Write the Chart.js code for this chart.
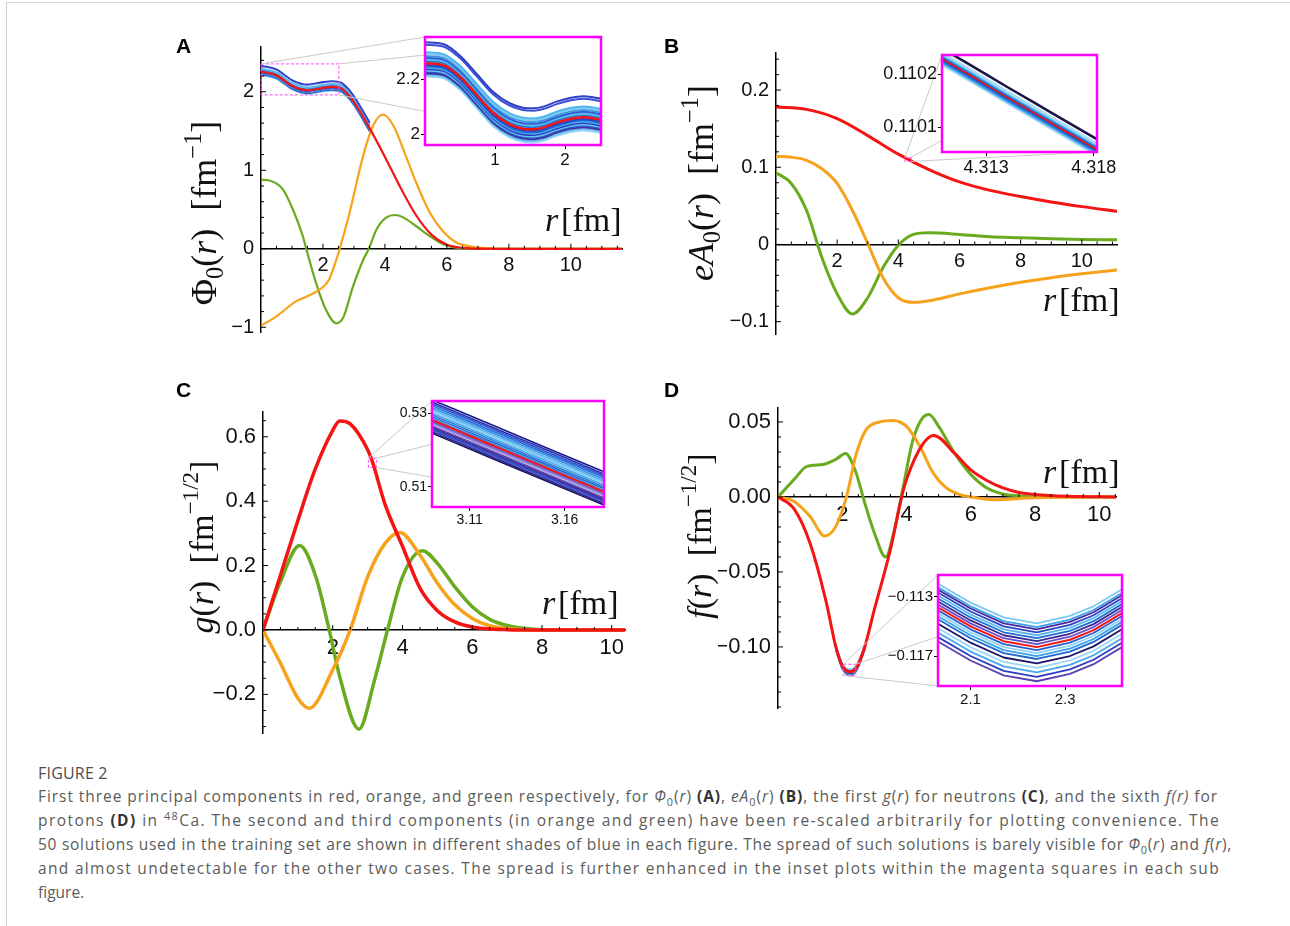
<!DOCTYPE html>
<html lang="en">
<head>
<meta charset="utf-8">
<title>Figure 2</title>
<script src="https://cdn.jsdelivr.net/npm/chart.js@4.4.1/dist/chart.umd.min.js"></script>
<style>
  body { margin: 0; background: #fff; }
  #page { position: relative; width: 1290px; height: 926px; overflow: hidden; font-family: "Liberation Sans", Arial, sans-serif; }
  .frame { position: absolute; left: 6px; top: 2px; width: 1300px; height: 940px; border-left: 1px solid #cfcfcf; border-top: 1px solid #d8d8d8; }
  canvas { position: absolute; }
  canvas.main { z-index: 1; }
  canvas.links { z-index: 2; }
  canvas.inset { z-index: 3; }
  .tag { position: absolute; z-index: 4; font-weight: bold; font-size: 21px; line-height: 1; }
  .math { position: absolute; z-index: 4; font-family: "Liberation Serif", "DejaVu Serif", serif; white-space: nowrap; line-height: 1; color: #111; }
  .ytitle { font-size: 36px; transform: translate(-50%, -50%) rotate(-90deg); }
  .ytitle.small { font-size: 34px; }
  .xtitle { font-size: 34px; }
  .math .sb { font-size: 0.68em; vertical-align: -0.28em; }
  .math .sp { font-size: 0.68em; vertical-align: 0.62em; }
  .cap-head { position: absolute; left: 38px; top: 762px; font-family: "Open Sans", "Noto Sans", sans-serif; font-size: 16px; letter-spacing: 0.2px; color: #4d4d4d; }
  .caption { position: absolute; left: 38px; top: 784px; width: 1190px; font-family: "Open Sans", "Noto Sans", sans-serif; font-size: 15.5px; line-height: 24px; color: #5b5b5b; }
  .caption div { white-space: nowrap; }
  .caption b { color: #333; }
  .caption sub, .caption sup { font-size: 0.7em; line-height: 0; }
</style>
</head>
<body>
<div id="page">
  <div class="frame"></div>

  <div class="tag" style="left:176px; top:35px">A</div>
  <div class="tag" style="left:664px; top:35px">B</div>
  <div class="tag" style="left:176px; top:379px">C</div>
  <div class="tag" style="left:664px; top:379px">D</div>

  <div class="math ytitle" style="left:204px; top:213px">Φ<span class="sb">0</span>(<i>r</i>)&nbsp;&nbsp;[fm<span class="sp">−1</span>]</div>
  <div class="math ytitle" style="left:701px; top:183px"><i>eA</i><span class="sb">0</span>(<i>r</i>)&nbsp;&nbsp;[fm<span class="sp">−1</span>]</div>
  <div class="math ytitle small" style="left:199px; top:547px"><i>g</i>(<i>r</i>)&nbsp;&nbsp;[fm<span class="sp">−1/2</span>]</div>
  <div class="math ytitle small" style="left:697px; top:536px"><i>f</i>(<i>r</i>)&nbsp;&nbsp;[fm<span class="sp">−1/2</span>]</div>

  <div class="math xtitle" style="left:545px; top:203px"><i>r</i>&#8202;[fm]</div>
  <div class="math xtitle" style="left:1043px; top:283px"><i>r</i>&#8202;[fm]</div>
  <div class="math xtitle" style="left:542px; top:586px"><i>r</i>&#8202;[fm]</div>
  <div class="math xtitle" style="left:1043px; top:455px"><i>r</i>&#8202;[fm]</div>

  <div class="cap-head">FIGURE 2</div>
  <div class="caption" id="caption">
    <div>First three principal components in red, orange, and green respectively, for <i>Φ</i><sub>0</sub>(<i>r</i>) <b>(A)</b>, <i>eA</i><sub>0</sub>(<i>r</i>) <b>(B)</b>, the first <i>g</i>(<i>r</i>) for neutrons <b>(C)</b>, and the sixth <i>f(r)</i> for</div>
    <div>protons <b>(D)</b> in <sup>48</sup>Ca. The second and third components (in orange and green) have been re-scaled arbitrarily for plotting convenience. The</div>
    <div>50 solutions used in the training set are shown in different shades of blue in each figure. The spread of such solutions is barely visible for <i>Φ</i><sub>0</sub>(<i>r</i>) and <i>f</i>(<i>r</i>),</div>
    <div>and almost undetectable for the other two cases. The spread is further enhanced in the inset plots within the magenta squares in each sub</div>
    <div>figure.</div>
  </div>
</div>

<script>
// ==============================
// Data: shared ticks
// ==============================
const xTicks = [2, 4, 6, 8, 10];

// ==============================
// Data: A  Φ0(r)
// ==============================
const rPhiRed = [0, 0.5, 1.0, 1.5, 2.0, 2.3, 2.6, 2.8, 3.0, 3.5, 4.0, 4.5, 5.0, 5.5, 6.0, 6.5, 7.0, 8, 11.65];
const phiRed = [2.258, 2.21, 2.075, 2.018, 2.05, 2.061, 2.04, 1.97, 1.87, 1.54, 1.17, 0.78, 0.43, 0.18, 0.05, 0.012, 0.002, 0, 0];
const rPhiOrange = [0, 0.5, 1.13, 1.46, 1.89, 2.2, 2.43, 2.54, 2.86, 3.3, 3.62, 3.94, 4.27, 4.59, 5.0, 5.45, 5.9, 6.3, 6.75, 7.3, 8, 11.65];
const phiOrange = [-0.98, -0.86, -0.67, -0.61, -0.52, -0.39, -0.14, 0, 0.46, 1.19, 1.57, 1.71, 1.57, 1.27, 0.85, 0.46, 0.21, 0.08, 0.03, 0.005, 0, 0];
const rPhiGreen = [0, 0.27, 0.7, 1.03, 1.35, 1.46, 1.78, 2.1, 2.43, 2.65, 2.97, 3.3, 3.48, 3.73, 4.05, 4.32, 4.59, 5.0, 5.45, 5.9, 6.3, 7, 8, 11.65];
const phiGreen = [0.88, 0.87, 0.76, 0.5, 0.16, 0, -0.44, -0.78, -0.95, -0.88, -0.48, -0.14, 0, 0.25, 0.40, 0.43, 0.40, 0.29, 0.16, 0.055, 0.015, 0.002, 0, 0];
const phiTicks = [-1, 0, 1, 2];
const phiLabels = ["−1", "0", "1", "2"];

// inset A
const rPhiZoom = [0, 0.26, 0.5, 0.74, 0.98, 1.21, 1.40, 1.55, 1.69, 1.88, 2.07, 2.26, 2.40, 2.52];
const phiZoomRed = [2.2585, 2.252, 2.2095, 2.1426, 2.0757, 2.0354, 2.0194, 2.0171, 2.0232, 2.0414, 2.0548, 2.061, 2.0574, 2.0512];
const phiSpread = [0.077, 0.068, 0.040, 0.033, 0.027, 0.020, 0.014, 0.008, 0.003, -0.006, -0.011, -0.016, -0.021, -0.026, -0.031, -0.036, -0.042, -0.048];
const phiZoomX = [1, 2];
const phiZoomXLabels = ["1", "2"];
const phiZoomY = [2, 2.2];
const phiZoomYLabels = ["2", "2.2"];

// ==============================
// Data: B  eA0(r)
// ==============================
const rA0Red = [0, 1, 2, 3, 4, 5, 6, 7, 8, 9, 10, 11.15];
const a0Red = [0.178, 0.175, 0.163, 0.141, 0.117, 0.097, 0.081, 0.070, 0.062, 0.055, 0.049, 0.043];
const rA0Orange = [0, 0.5, 1, 1.5, 2, 2.5, 3, 3.5, 4, 4.5, 5, 6, 7, 8, 9, 10, 11.15];
const a0Orange = [0.114, 0.113, 0.109, 0.098, 0.079, 0.044, 0.001, -0.043, -0.069, -0.075, -0.073, -0.064, -0.056, -0.049, -0.043, -0.038, -0.033];
const rA0Green = [0, 0.5, 1, 1.5, 2, 2.5, 3, 3.5, 4, 4.5, 5, 6, 7, 8, 9, 10, 11.15];
const a0Green = [0.093, 0.079, 0.044, -0.017, -0.064, -0.090, -0.069, -0.030, -0.001, 0.013, 0.015, 0.013, 0.010, 0.0087, 0.0074, 0.0065, 0.006];
const a0Ticks = [-0.1, 0, 0.1, 0.2];
const a0Labels = ["−0.1", "0", "0.1", "0.2"];

// inset B
const rA0Zoom = [4.310, 4.312, 4.314, 4.316, 4.318, 4.320];
const a0ZoomRed = [0.110251, 0.110204, 0.110156, 0.110109, 0.110062, 0.110015];
const a0Spread = [0.0000195, 0.000011, 0.0000095, 0.000008, 0.0000065, 0.000005, 0.0000035, 0.000002, 0.0000008, -0.0000008, -0.000002, -0.0000035, -0.000005, -0.0000065, -0.000008, -0.0000095, -0.000011];
const a0ZoomX = [4.313, 4.318];
const a0ZoomXLabels = ["4.313", "4.318"];
const a0ZoomY = [0.1101, 0.1102];
const a0ZoomYLabels = ["0.1101", "0.1102"];

// ==============================
// Data: C  g(r)
// ==============================
const rGRed = [0, 0.5, 1, 1.5, 2, 2.2, 2.5, 3, 3.13, 3.5, 4, 4.5, 5, 5.5, 6, 6.5, 7, 8, 10.38];
const gRed = [0, 0.17, 0.34, 0.50, 0.62, 0.649, 0.64, 0.56, 0.525, 0.39, 0.26, 0.13, 0.06, 0.025, 0.009, 0.003, 0.001, 0, 0];
const rGOrange = [0, 0.5, 1, 1.32, 2, 2.5, 3, 3.5, 3.92, 4.5, 5, 5.5, 6, 6.5, 7, 7.5, 8, 10.38];
const gOrange = [0, -0.103, -0.212, -0.243, -0.124, 0, 0.165, 0.269, 0.303, 0.233, 0.145, 0.078, 0.036, 0.013, 0.004, 0.001, 0, 0];
const rGGreen = [0, 0.5, 1.05, 1.5, 1.9, 2.2, 2.75, 3.2, 3.57, 4, 4.57, 5, 5.5, 6, 6.5, 7, 7.5, 8, 10.38];
const gGreen = [0, 0.15, 0.262, 0.17, 0, -0.145, -0.308, -0.155, 0, 0.165, 0.246, 0.207, 0.134, 0.072, 0.033, 0.014, 0.005, 0.001, 0];
const gTicks = [-0.2, 0, 0.2, 0.4, 0.6];
const gLabels = ["−0.2", "0.0", "0.2", "0.4", "0.6"];

// inset C
const rGZoom = [3.09, 3.12, 3.15, 3.18];
const gZoomRed = [0.52825, 0.52175, 0.51525, 0.50875];
const gSpread = [0.0055, 0.0049, 0.0044, 0.0039, 0.0034, 0.0029, 0.0024, 0.0019, 0.0014, 0.0009, 0.0004, -0.0004, -0.0008, -0.0012, -0.0016, -0.0020, -0.0024, -0.0028, -0.0032, -0.0036];
const gZoomX = [3.11, 3.16];
const gZoomXLabels = ["3.11", "3.16"];
const gZoomY = [0.51, 0.53];
const gZoomYLabels = ["0.51", "0.53"];

// ==============================
// Data: D  f(r)
// ==============================
const rFRed = [0, 0.5, 1, 1.5, 1.8, 2.0, 2.24, 2.45, 2.7, 3, 3.5, 3.85, 4, 4.5, 4.85, 5.5, 6, 6.5, 7, 7.5, 8, 9, 10.52];
const fRed = [0, -0.008, -0.031, -0.070, -0.100, -0.1125, -0.1165, -0.1135, -0.100, -0.075, -0.035, 0, 0.0116, 0.035, 0.041, 0.029, 0.018, 0.011, 0.006, 0.003, 0.0016, 0.0004, 0];
const rFOrange = [0, 0.5, 1, 1.45, 1.8, 2.13, 2.44, 2.75, 3.17, 3.58, 4.0, 4.41, 4.83, 5.24, 5.66, 6.0, 6.7, 8, 10.52];
const fOrange = [0, -0.003, -0.013, -0.026, -0.0196, 0, 0.029, 0.045, 0.050, 0.051, 0.047, 0.034, 0.016, 0.006, 0.0016, 0, -0.0018, -0.0005, 0];
const rFGreen = [0, 0.5, 0.9, 1.4, 1.8, 2.1, 2.4, 2.7, 3.0, 3.35, 3.6, 3.9, 4.2, 4.5, 4.7, 5.0, 5.5, 6, 6.5, 7, 7.5, 8, 10.52];
const fGreen = [0, 0.0116, 0.0204, 0.0216, 0.025, 0.029, 0.018, -0.004, -0.024, -0.040, -0.024, 0.007, 0.038, 0.0527, 0.055, 0.047, 0.029, 0.015, 0.006, 0.002, 0.0007, 0, 0];
const fTicks = [-0.1, -0.05, 0, 0.05];
const fLabels = ["−0.10", "−0.05", "0.00", "0.05"];

// inset D
const rFZoom = [2.03, 2.10, 2.17, 2.24, 2.31, 2.36, 2.42];
const fZoomRed = [-0.1137, -0.1150, -0.1160, -0.1164, -0.1159, -0.11525, -0.1141];
const fSpread = [0.0016, 0.00135, 0.0012, 0.0010, 0.0008, 0.0006, 0.0004, 0.0002, -0.0002, -0.0004, -0.0006, -0.0008, -0.0011, -0.0014, -0.0017, -0.0020, -0.0023];
const fZoomX = [2.1, 2.3];
const fZoomXLabels = ["2.1", "2.3"];
const fZoomY = [-0.117, -0.113];
const fZoomYLabels = ["−0.117", "−0.113"];

// ==============================
// Styles
// ==============================
const RED = "#f41414";
const ORANGE = "#f7a21c";
const GREEN = "#6aaa1f";
const MAGENTA = "#ff00ff";
const SANS = "'Liberation Sans', Arial, sans-serif";

const bluesA = ["#2f3fc8", "#3b4fd6", "#4cb4ee", "#7ccaf2", "#3d8fe0", "#2a5fd0", "#5ab8ee", "#1f7ad8", "#8fd3f5",
  "#2a45c8", "#1d6fd8", "#45a8ea", "#2c3bbf", "#6cc0f0", "#1f5cc8", "#4a2a9a", "#5fbdf0", "#9ad8f6"];
const bluesB = ["#1c1446", "#a9dcf6", "#7cc6f2", "#4aa8ea", "#2f8ae0", "#1f6fd6", "#1d5cc8", "#2450c4", "#1a4fbf",
  "#1d5cc8", "#1f6cd4", "#2a80dc", "#3a93e4", "#55aeec", "#7cc6f2", "#9ed6f5", "#bde4f8"];
const bluesC = ["#1a1a8c", "#2432b0", "#2f4fd0", "#1e6fd8", "#3a93e6", "#5cb3ee", "#7ecbf3", "#4aa6ea", "#2b7fdc", "#1e66cc",
  "#3f7fe0", "#6a5cc8", "#8a7ad8", "#b0a8e8", "#5a3fae", "#3b2a90", "#2a3fc0", "#4456cc", "#2a1f7a", "#1b1464"];
const bluesD = ["#7ccaf2", "#3aa0ea", "#4a2a9a", "#2a45c8", "#5ab8ee", "#1f6fd8", "#3b2a90", "#6a4cc8", "#2a5fd0",
  "#8fd3f5", "#3aa0ea", "#1e66cc", "#1b1464", "#9ad8f6", "#45a8ea", "#2c3bbf", "#5a3fae"];

// ==============================
// Helpers
// ==============================
const page = document.getElementById("page");

function addCanvas(cls, left, top, width, height) {
  const cv = document.createElement("canvas");
  cv.className = cls;
  cv.width = width;
  cv.height = height;
  cv.style.left = left + "px";
  cv.style.top = top + "px";
  cv.style.width = width + "px";
  cv.style.height = height + "px";
  page.appendChild(cv);
  return cv;
}

const curve = (rs, vs, color, width) => ({
  data: rs.map((r, i) => ({ x: r, y: vs[i] })),
  borderColor: color,
  borderWidth: width
});

// the training solutions, drawn as their spread around the red curve
function spreadSets(rs, vs, offsets, colors, width, rMin, rMax) {
  return offsets.map((d, k) => ({
    data: rs.map((r, i) => ({ x: r, y: vs[i] + d })).filter(p => p.x >= rMin && p.x <= rMax),
    borderColor: colors[k % colors.length],
    borderWidth: width
  }));
}

const fixedTicks = vals => s => { s.ticks = vals.map(v => ({ value: v })); };

function zoomRect(chart) {
  const o = chart.options.plugins.zoomBox;
  const { x, y } = chart.scales;
  const l = x.getPixelForValue(o.x[0]), r = x.getPixelForValue(o.x[1]);
  const t = y.getPixelForValue(o.y[1]), b = y.getPixelForValue(o.y[0]);
  const cx = (l + r) / 2, cy = (t + b) / 2;
  const w = Math.max(r - l, o.minW), h = Math.max(b - t, o.minH);
  return { l: cx - w / 2, r: cx + w / 2, t: cy - h / 2, b: cy + h / 2 };
}

// ==============================
// Plugins
// ==============================
const axisTicks = {
  id: "axisTicks",
  afterDraw(chart, args, opts) {
    const { ctx, scales: { x, y } } = chart;
    const y0 = y.getPixelForValue(0);
    const x0 = chart.chartArea.left;
    ctx.save();
    ctx.strokeStyle = "#000";
    ctx.lineWidth = 1;
    ctx.beginPath();
    const nx = Math.floor(x.max / opts.xStep);
    for (let i = 1; i <= nx; i++) {
      const v = i * opts.xStep;
      const major = xTicks.some(m => Math.abs(m - v) < 1e-9);
      const px = x.getPixelForValue(v);
      ctx.moveTo(px, y0);
      ctx.lineTo(px, y0 - (major ? 5 : 3));
    }
    const i0 = Math.ceil(y.min / opts.yStep), i1 = Math.floor(y.max / opts.yStep);
    for (let i = i0; i <= i1; i++) {
      const v = i * opts.yStep;
      const major = opts.yMajor.some(m => Math.abs(m - v) < 1e-9);
      const py = y.getPixelForValue(v);
      ctx.moveTo(x0, py);
      ctx.lineTo(x0 + (major ? 5 : 3), py);
    }
    ctx.stroke();
    ctx.restore();
  }
};

const zoomBox = {
  id: "zoomBox",
  afterDatasetsDraw(chart) {
    const r = zoomRect(chart);
    const ctx = chart.ctx;
    ctx.save();
    ctx.strokeStyle = "#ff44ff";
    ctx.lineWidth = 1;
    ctx.setLineDash([3, 2]);
    ctx.strokeRect(r.l, r.t, r.r - r.l, r.b - r.t);
    ctx.restore();
  }
};

const insetFrame = {
  id: "insetFrame",
  beforeDraw(chart) {
    const { ctx, chartArea: a } = chart;
    ctx.save();
    ctx.fillStyle = "#fff";
    ctx.fillRect(a.left, a.top, a.right - a.left, a.bottom - a.top);
    ctx.restore();
  },
  afterDraw(chart) {
    const { ctx, chartArea: a } = chart;
    ctx.save();
    ctx.strokeStyle = MAGENTA;
    ctx.lineWidth = 2.5;
    ctx.strokeRect(a.left, a.top, a.right - a.left, a.bottom - a.top);
    ctx.restore();
  }
};

const BASE = {
  animation: false,
  responsive: false,
  events: [],
  elements: {
    point: { radius: 0 },
    line: { cubicInterpolationMode: "monotone", borderCapStyle: "round", borderJoinStyle: "round", fill: false }
  }
};

// ==============================
// Main panels
// ==============================
function mainChart(p) {
  const [L, T, R, B] = p.area;
  const yw = 60, pad = 24;
  const cv = addCanvas("main", L - yw, T - pad, yw + R - L + pad, pad + B - T + pad);
  const font = { family: SANS, size: p.font };

  return new Chart(cv, {
    type: "line",
    data: {
      datasets: [
        curve(p.red[0], p.red[1], RED, p.width),
        curve(p.orange[0], p.orange[1], ORANGE, p.width),
        curve(p.green[0], p.green[1], GREEN, p.width),
        ...(p.blues || [])
      ]
    },
    options: {
      ...BASE,
      layout: { padding: { left: 0, top: pad, right: pad, bottom: pad } },
      scales: {
        x: {
          type: "linear",
          position: { y: 0 },
          min: p.x[0],
          max: p.x[1],
          afterBuildTicks: fixedTicks(xTicks),
          grid: { drawOnChartArea: false, drawTicks: false },
          border: { color: "#000", width: 1.5 },
          ticks: { padding: 5, color: "#111", font, autoSkip: false, maxRotation: 0, callback: v => String(v) }
        },
        y: {
          type: "linear",
          position: "left",
          min: p.y[0],
          max: p.y[1],
          afterBuildTicks: fixedTicks(p.yTicks),
          afterFit: s => { s.width = yw; },
          grid: { drawOnChartArea: false, drawTicks: false },
          border: { color: "#000", width: 1.5 },
          ticks: { padding: 7, color: "#111", font, autoSkip: false, callback: (v, i) => p.yLabels[i] }
        }
      },
      plugins: {
        legend: { display: false },
        tooltip: { enabled: false },
        axisTicks: { xStep: 0.5, yStep: p.yStep, yMajor: p.yTicks },
        zoomBox: { x: p.zoom.x, y: p.zoom.y, minW: p.zoom.minW, minH: p.zoom.minH }
      }
    },
    plugins: [axisTicks, zoomBox]
  });
}

// ==============================
// Insets
// ==============================
function insetChart(p) {
  const [L, T, R, B] = p.area;
  const pad = 34, xh = 24;
  const cv = addCanvas("inset", L - p.yw, T - pad, p.yw + R - L + pad, pad + B - T + xh);
  const font = { family: SANS, size: p.font };
  const tickGrid = { drawOnChartArea: false, drawTicks: true, tickLength: 4, tickColor: "#000", tickWidth: 1 };

  return new Chart(cv, {
    type: "line",
    data: {
      datasets: [curve(p.red[0], p.red[1], RED, p.redWidth), ...p.blues]
    },
    options: {
      ...BASE,
      elements: {
        point: { radius: 0 },
        line: { cubicInterpolationMode: p.linear ? "default" : "monotone", tension: 0, borderCapStyle: "round", borderJoinStyle: "round" }
      },
      layout: { padding: { left: 0, top: pad, right: pad, bottom: 0 } },
      scales: {
        x: {
          type: "linear",
          position: "bottom",
          min: p.x[0],
          max: p.x[1],
          afterBuildTicks: fixedTicks(p.xTicks),
          afterFit: s => { s.height = xh; },
          grid: tickGrid,
          border: { display: false },
          ticks: { padding: 1, color: "#111", font, autoSkip: false, maxRotation: 0, callback: (v, i) => p.xLabels[i] }
        },
        y: {
          type: "linear",
          position: "left",
          min: p.y[0],
          max: p.y[1],
          afterBuildTicks: fixedTicks(p.yTicks),
          afterFit: s => { s.width = p.yw; },
          grid: tickGrid,
          border: { display: false },
          ticks: { padding: 1, color: "#111", font, autoSkip: false, callback: (v, i) => p.yLabels[i] }
        }
      },
      plugins: { legend: { display: false }, tooltip: { enabled: false } }
    },
    plugins: [insetFrame]
  });
}

// ==============================
// Build
// ==============================
const insetRanges = {
  A: { x: [0, 2.514], y: [1.9598, 2.3547] },
  B: { x: [4.31095, 4.31815], y: [0.110054, 0.110236] },
  C: { x: [3.0902, 3.1807], y: [0.5045, 0.5334] },
  D: { x: [2.0313, 2.420], y: [-0.11902, -0.11154] }
};

const chartA = mainChart({
  area: [261, 47, 622, 332], x: [0, 11.65], y: [-1.06, 2.57], font: 20, width: 2.2,
  red: [rPhiRed, phiRed], orange: [rPhiOrange, phiOrange], green: [rPhiGreen, phiGreen],
  blues: spreadSets(rPhiRed, phiRed, phiSpread, bluesA, 1.4, 0, 3.5),
  yTicks: phiTicks, yLabels: phiLabels, yStep: 0.2,
  zoom: { ...insetRanges.A, minW: 6, minH: 4 }
});

const chartB = mainChart({
  area: [776, 53, 1117, 334], x: [0, 11.15], y: [-0.116, 0.248], font: 20, width: 3,
  red: [rA0Red, a0Red], orange: [rA0Orange, a0Orange], green: [rA0Green, a0Green],
  yTicks: a0Ticks, yLabels: a0Labels, yStep: 0.02,
  zoom: { ...insetRanges.B, minW: 6, minH: 4 }
});

const chartC = mainChart({
  area: [263, 412, 625, 733], x: [0, 10.38], y: [-0.32, 0.677], font: 22, width: 3.5,
  red: [rGRed, gRed], orange: [rGOrange, gOrange], green: [rGGreen, gGreen],
  yTicks: gTicks, yLabels: gLabels, yStep: 0.05,
  zoom: { ...insetRanges.C, minW: 8, minH: 8 }
});

const chartD = mainChart({
  area: [778, 408, 1116, 708], x: [0, 10.52], y: [-0.1407, 0.0593], font: 22, width: 3,
  red: [rFRed, fRed], orange: [rFOrange, fOrange], green: [rFGreen, fGreen],
  blues: spreadSets(rFRed, fRed, fSpread, bluesD, 1.2, 1.8, 2.7),
  yTicks: fTicks, yLabels: fLabels, yStep: 0.01,
  zoom: { ...insetRanges.D, minW: 8, minH: 8 }
});

const insetA = insetChart({
  area: [425, 37, 601, 145], ...insetRanges.A, yw: 40, font: 17, redWidth: 2.5,
  red: [rPhiZoom, phiZoomRed], blues: spreadSets(rPhiZoom, phiZoomRed, phiSpread, bluesA, 2, -1, 99),
  xTicks: phiZoomX, xLabels: phiZoomXLabels, yTicks: phiZoomY, yLabels: phiZoomYLabels
});

const insetB = insetChart({
  area: [942, 55, 1097, 152], ...insetRanges.B, yw: 62, font: 18, redWidth: 1.6,
  red: [rA0Zoom, a0ZoomRed], blues: spreadSets(rA0Zoom, a0ZoomRed, a0Spread, bluesB, 2.6, 0, 99),
  xTicks: a0ZoomX, xLabels: a0ZoomXLabels, yTicks: a0ZoomY, yLabels: a0ZoomYLabels
});

const insetC = insetChart({
  area: [432, 401, 604, 507], ...insetRanges.C, yw: 36, font: 14, redWidth: 2,
  red: [rGZoom, gZoomRed], blues: spreadSets(rGZoom, gZoomRed, gSpread, bluesC, 1.6, 0, 99),
  xTicks: gZoomX, xLabels: gZoomXLabels, yTicks: gZoomY, yLabels: gZoomYLabels
});

const insetD = insetChart({
  area: [938, 575, 1122, 686], ...insetRanges.D, yw: 56, font: 15, redWidth: 2, linear: true,
  red: [rFZoom, fZoomRed], blues: spreadSets(rFZoom, fZoomRed, fSpread, bluesD, 1.8, 0, 99),
  xTicks: fZoomX, xLabels: fZoomXLabels, yTicks: fZoomY, yLabels: fZoomYLabels
});

// ==============================
// Connector lines (box in plot -> inset frame)
// ==============================
const links = addCanvas("links", 0, 0, 1290, 926);
const lctx = links.getContext("2d");
lctx.strokeStyle = "#c8c8c8";
lctx.lineWidth = 1;

[
  [chartA, insetA, ["tl", "tr", "br"]],
  [chartB, insetB, ["tl", "tr", "br"]],
  [chartC, insetC, ["tl", "tr", "br"]],
  [chartD, insetD, ["tl", "tr", "bl"]]
].forEach(([main, inset, corners]) => {
  const mx = parseFloat(main.canvas.style.left), my = parseFloat(main.canvas.style.top);
  const ix = parseFloat(inset.canvas.style.left), iy = parseFloat(inset.canvas.style.top);
  const b = zoomRect(main);
  const a = inset.chartArea;
  const from = { tl: [b.l, b.t], tr: [b.r, b.t], bl: [b.l, b.b], br: [b.r, b.b] };
  const to = { tl: [a.left, a.top], tr: [a.right, a.top], bl: [a.left, a.bottom], br: [a.right, a.bottom] };
  lctx.beginPath();
  corners.forEach(c => {
    lctx.moveTo(mx + from[c][0], my + from[c][1]);
    lctx.lineTo(ix + to[c][0], iy + to[c][1]);
  });
  lctx.stroke();
});

// ==============================
// Caption: spread letters so each full line reaches the right edge
// ==============================
const capLines = Array.from(document.querySelectorAll("#caption div"));
const capWidth = [1180, 1182, 1194, 1182];
capLines.slice(0, 4).forEach((div, i) => {
  div.style.display = "inline-block";
  const natural = div.getBoundingClientRect().width;
  const chars = div.textContent.trim().length;
  div.style.letterSpacing = ((capWidth[i] - natural) / chars).toFixed(3) + "px";
  div.style.display = "block";
});
</script>
</body>
</html>
